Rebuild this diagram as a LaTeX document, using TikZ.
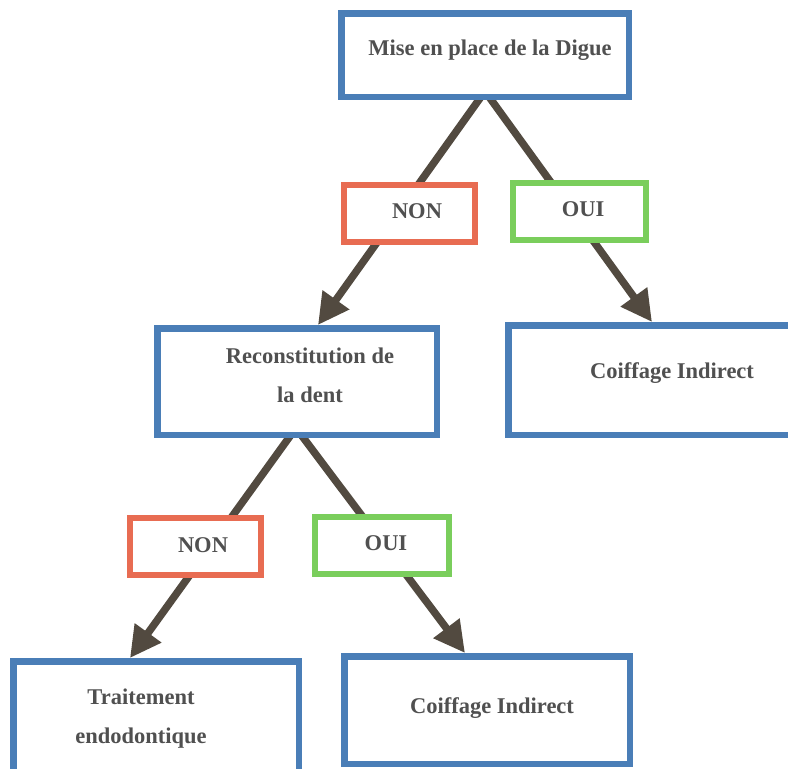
\documentclass[tikz,border=0pt]{standalone}
\usepackage{fontspec}
\setmainfont{Liberation Serif}
\usetikzlibrary{arrows.meta,calc}
\pgfdeclarelayer{bg}
\pgfsetlayers{bg,main}
\definecolor{boxblue}{RGB}{74,126,183}
\definecolor{nonred}{RGB}{232,108,82}
\definecolor{ouigreen}{RGB}{122,206,92}
\definecolor{arrowbrown}{RGB}{82,74,64}
\definecolor{txtgrey}{RGB}{80,80,80}
\begin{document}
\begin{tikzpicture}[x=1pt,y=-1pt,
  box/.style={draw=boxblue,line width=6.5pt,fill=white,inner sep=0pt},
  nonbox/.style={draw=nonred,line width=6pt,fill=white,inner sep=0pt,minimum width=131pt,minimum height=57pt},
  ouibox/.style={draw=ouigreen,line width=6pt,fill=white,inner sep=0pt,minimum width=133pt,minimum height=57pt},
  txt/.style={font=\fontsize{22.5}{39}\selectfont\bfseries,text=txtgrey,anchor=base,align=center,inner sep=0pt},
  arr/.style={draw=arrowbrown,line width=7.5pt,-{Triangle[length=31pt,width=31pt]}}]
\useasboundingbox (0,0) rectangle (788,769);
% boxes
\node[box,minimum width=287.5pt,minimum height=83.5pt] (top) at (485,55) {};
\node[nonbox] (non1) at (409,213.5) {};
\node[ouibox] (oui1) at (579,211.5) {};
\node[box,minimum width=279.5pt,minimum height=106.5pt] (recon) at (297,381.5) {};
\node[box,minimum width=327.5pt,minimum height=109.5pt] (coiff1) at (672,380) {};
\node[nonbox] (non2) at (195.5,546.5) {};
\node[ouibox,minimum width=134pt] (oui2) at (382,545) {};
\node[box,minimum width=285.5pt,minimum height=111.5pt] (trait) at (156,717) {};
\node[box,minimum width=285.5pt,minimum height=107.5pt] (coiff2) at (487,710) {};
% texts
\node[txt] (top-t) at (490,55) {Mise en place de la Digue};
\node[txt] (non1-t) at (417,218) {NON};
\node[txt] (oui1-t) at (583,216) {OUI};
\node[txt] (recon-t) at (310,402) {Reconstitution de\\la dent};
\node[txt] (coiff1-t) at (672,378) {Coiffage Indirect};
\node[txt] (non2-t) at (203,552) {NON};
\node[txt] (oui2-t) at (386,550) {OUI};
\node[txt] (trait-t) at (141,743) {Traitement\\endodontique};
\node[txt] (coiff2-t) at (492,713) {Coiffage Indirect};
% arrows
\begin{pgfonlayer}{bg}
\fill[white] (0,0) rectangle (788,769);
\draw[arr] ($(top.south)+(-2,-6)$) -- ($(recon.north)+(21,0)$);
\draw[arr] ($(top.south)+(2,-6)$) -- ($(coiff1.north west)+(147,0)$);
\draw[arr] ($(recon.south)+(-4,-6)$) -- ($(trait.north west)+(120,0)$);
\draw[arr] ($(recon.south)+(2,-6)$) -- ($(coiff2.north west)+(124,0)$);
\end{pgfonlayer}
\end{tikzpicture}
\end{document}
